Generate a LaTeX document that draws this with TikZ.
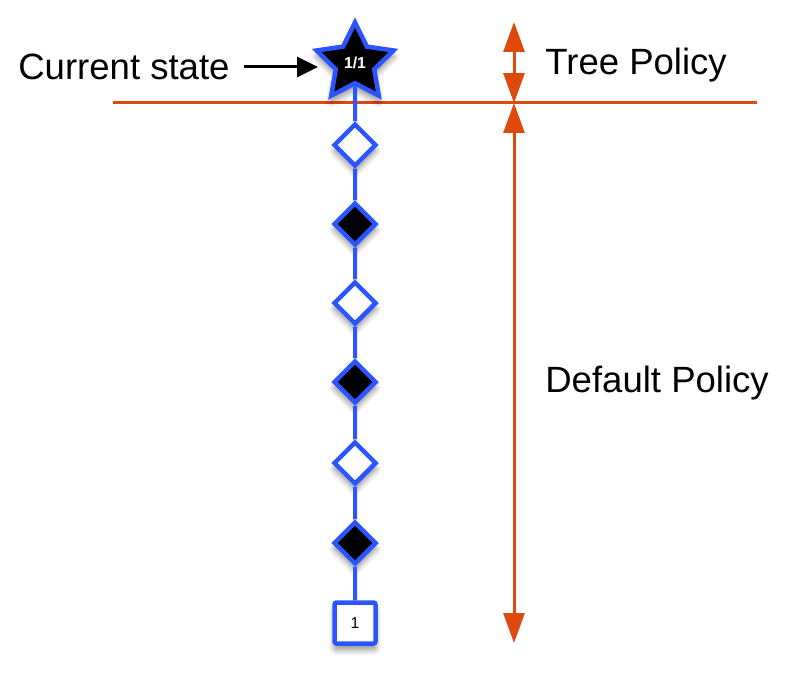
\documentclass[tikz,border=0pt]{standalone}
\usepackage{fontspec}
\setmainfont{Liberation Sans}
\usetikzlibrary{shapes.geometric,arrows.meta,shadows.blur}
\definecolor{treeblue}{RGB}{45,85,255}
\definecolor{policyorange}{RGB}{222,74,14}
\tikzset{
	nodeshadow/.style={blur shadow={shadow xshift=0cm, shadow yshift=-0.12cm, shadow blur steps=8, shadow blur radius=0.12cm, shadow opacity=45}},
	statestar/.style={star, star points=5, star point ratio=2.0, draw=treeblue, line width=0.09cm, fill=black, text=white, inner sep=0pt, minimum size=1.62cm, font=\bfseries\fontsize{9}{9}\selectfont, nodeshadow},
	chance/.style={diamond, draw=treeblue, line width=0.09cm, fill=white, inner sep=0pt, minimum size=0.86cm, nodeshadow},
	choice/.style={chance, fill=black},
	leaf/.style={rectangle, rounded corners=0.04cm, draw=treeblue, line width=0.09cm, fill=white, inner sep=0pt, minimum size=0.82cm, font=\fontsize{9}{9}\selectfont, nodeshadow},
	label/.style={font=\fontsize{20.8}{24}\selectfont},
	span/.style={draw=policyorange, line width=0.06cm, {Triangle[length=0.6cm, width=0.42cm]}-{Triangle[length=0.6cm, width=0.42cm]}}
}
\begin{document}
\begin{tikzpicture}[x=0.02cm, y=-0.02cm]
		\useasboundingbox (0,0) rectangle (808,686);
		\draw[draw=policyorange, line width=0.06cm]
		coordinate (hl) at (113,103)
		coordinate (hr) at (757,103)
		(hl) -- (hr);
		\draw
		node[statestar] at (355,63) (s0) {1/1}
		node[chance] at (355,145) (d1) {}
		node[choice] at (355,224) (d2) {}
		node[chance] at (355,303) (d3) {}
		node[choice] at (355,382) (d4) {}
		node[chance] at (355,463) (d5) {}
		node[choice] at (355,543) (d6) {}
		node[leaf] at (355,623) (t1) {1}
		node[label, anchor=west, inner sep=0pt] at (18,67) (cur) {Current state}
		node[label, anchor=west, inner sep=0pt] at (545,65) (tree) {Tree Policy}
		node[label, anchor=west, inner sep=0pt] at (545,383) (def) {Default Policy}
		coordinate (arr) at (318,67)
		coordinate (tt) at (514,22)
		coordinate (tm) at (514,103)
		coordinate (tb) at (514,643)
		[-{Triangle[length=0.42cm, width=0.4cm]}, line width=0.06cm] ([xshift=0.28cm]cur.east) -- (arr);
		\draw[draw=treeblue, line width=0.08cm]
		(s0) -- (d1) -- (d2) -- (d3) -- (d4) -- (d5) -- (d6) -- (t1);
		\draw[span] (tt) -- (tm);
		\draw[span] (tm) -- (tb);
	\end{tikzpicture}
\end{document}
